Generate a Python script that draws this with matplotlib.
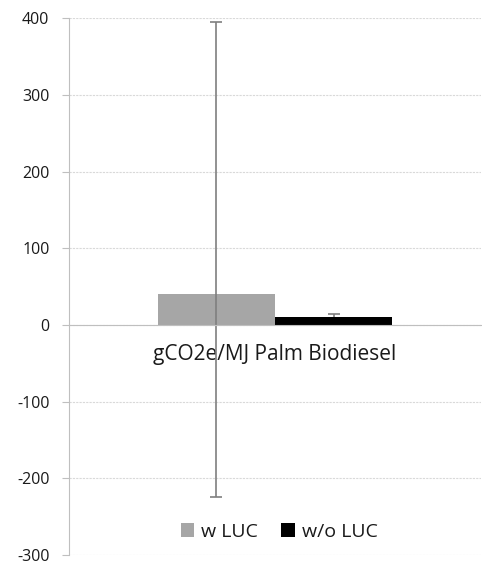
import matplotlib.pyplot as plt
import numpy as np

plt.rcParams['font.family'] = ['Open Sans', 'DejaVu Sans']

# data
category = "gCO2e/MJ Palm Biodiesel"
series = ["w LUC", "w/o LUC"]
values = [40, 10]
err_low = [265, 0]     # distance below bar top
err_high = [355, 4]    # distance above bar top
colors = ["#a6a6a6", "#000000"]
yticks = [-300, -200, -100, 0, 100, 200, 300, 400]

fig = plt.figure(figsize=(4.82, 5.61), dpi=100)
ax = fig.add_axes([0.143, 0.0107, 0.855, 0.957])

width = 0.285
offsets = [-width / 2, width / 2]
for name, v, lo, hi, c, off in zip(series, values, err_low, err_high, colors, offsets):
    ax.bar(off, v, width=width, color=c, label=name, zorder=2)
    eb = ax.errorbar(off, v, yerr=[[lo], [hi]], fmt="none", ecolor="#7f7f7f",
                     elinewidth=1.2, capsize=4, capthick=1.2, zorder=3)
    if lo == 0:
        # only a plus bar, no cap at the bar top
        eb[1][0].set_visible(False)

ax.set_xlim(-0.5, 0.5)
ax.set_ylim(-300, 400)
ax.set_yticks(yticks)
ax.set_yticklabels([str(t) for t in yticks], fontsize=11.5, color="#1a1a1a")
ax.yaxis.grid(True, color="#d9d9d9", linestyle=(0, (2, 1)), linewidth=0.8, zorder=0)

ax.spines['bottom'].set_position(('data', 0))
ax.spines['bottom'].set_color("#bfbfbf")
ax.spines['bottom'].set_zorder(4)
ax.spines['left'].set_color("#bfbfbf")
ax.spines['top'].set_visible(False)
ax.spines['right'].set_visible(False)

ax.set_xticks([0])
ax.set_xticklabels([category], fontsize=15, color="#1a1a1a")
ax.tick_params(axis='x', length=0, pad=14)
ax.tick_params(axis='y', length=5, color="#bfbfbf", pad=9)

leg = ax.legend(loc="center", bbox_to_anchor=(0.51, 0.043), ncol=2, frameon=False,
                fontsize=14, handlelength=0.7, handleheight=0.7, handletextpad=0.35,
                columnspacing=1.2)
for t in leg.get_texts():
    t.set_color("#1a1a1a")

fig.savefig("out.png", dpi=100)
